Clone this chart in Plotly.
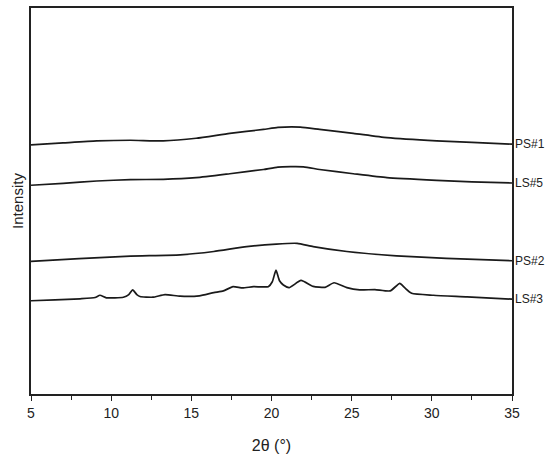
import plotly.graph_objects as go

# 2-theta positions (deg) and intensity readings (arbitrary units, offset curves)
ps1_x = [5.0, 7.0, 9.1, 11.2, 13.25, 15.3, 17.4, 19.5, 20.4, 21.8, 23.0, 25.1, 27.2, 30.3, 32.5, 35.0]
ps1_y = [253, 255, 257, 257.7, 257, 259.7, 264.7, 268.7, 270.7, 271, 268.7, 264.7, 260.3, 257, 255.5, 253.7]

ls5_x = [5.0, 7.0, 9.1, 11.2, 13.25, 15.3, 17.4, 19.5, 20.4, 22.0, 23.0, 25.1, 27.2, 30.3, 32.5, 35.0]
ls5_y = [212, 214, 216.3, 217.7, 218, 219.7, 223.7, 228, 230.5, 230.7, 228, 223.7, 219.7, 217, 215.5, 214.3]

ps2_x = [5.0, 8.0, 11.2, 14.3, 16.4, 18.45, 20.3, 21.6, 22.6, 24.7, 27.8, 30.9, 35.0]
ps2_y = [134.7, 137.5, 140, 141.3, 144.7, 149.7, 152.3, 153, 149.7, 144.7, 140.3, 137.7, 135.3]

ls3_x = [5.0, 6.5, 8.06, 9.0, 9.3, 9.7, 10.76, 11.1, 11.34, 11.6, 11.8, 12.6, 13.36, 14.3,
         15.5, 16.4, 17.0, 17.6, 18.2, 18.87, 19.8, 20.05, 20.28, 20.5, 20.74, 21.1, 21.84,
         22.6, 23.34, 23.9, 24.7, 25.5, 26.45, 27.4, 28.0, 28.3, 28.74, 30.1, 32.2, 35.0]
ls3_y = [94.7, 95.5, 96.7, 98, 100.3, 97.7, 98.3, 101, 105.7, 101, 99, 98.3, 101, 99.3,
         99.7, 103, 104.7, 109, 107.7, 109, 109, 114, 125.7, 115, 110.7, 108, 115.3,
         109.3, 108.3, 113, 108, 105.7, 106, 104.7, 112.3, 108, 102.3, 100.3, 98.7, 96.3]

series = [("PS#1", ps1_x, ps1_y), ("LS#5", ls5_x, ls5_y),
          ("PS#2", ps2_x, ps2_y), ("LS#3", ls3_x, ls3_y)]

fig = go.Figure()
for name, xs, ys in series:
    fig.add_trace(go.Scatter(x=xs, y=ys, mode='lines', name=name,
                             line=dict(color='#1a1a1a', width=1.7,
                                       shape='spline', smoothing=0.5)))
    # label just outside the right frame, level with the curve's end
    fig.add_annotation(x=1, xref='paper', xanchor='left', xshift=1,
                       y=ys[-1], yref='y', text=name, showarrow=False,
                       font=dict(size=12, color='#222'))

fig.update_layout(
    width=550, height=458,
    paper_bgcolor='white', plot_bgcolor='white',
    showlegend=False,
    font=dict(family='Liberation Sans, Arial, sans-serif', color='#222'),
    margin=dict(l=31, r=38, t=6, b=60),
    xaxis=dict(range=[5, 35], tickvals=[5, 10, 15, 20, 25, 30, 35],
               ticks='outside', ticklen=5, tickwidth=1.3, tickcolor='#222',
               minor=dict(tickvals=[7.5, 12.5, 17.5, 22.5, 27.5, 32.5],
                          ticks='outside', ticklen=4, tickcolor='#222'),
               showline=True, linecolor='#222', linewidth=1.5, mirror=True,
               showgrid=False, zeroline=False, tickfont=dict(size=14),
               title=dict(text='2θ (°)', font=dict(size=16), standoff=20)),
    yaxis=dict(range=[0, 392], showticklabels=False, ticks='',
               showline=True, linecolor='#222', linewidth=1.5, mirror=True,
               showgrid=False, zeroline=False,
               title=dict(text='Intensity', font=dict(size=15), standoff=2)),
)

fig.write_html("out.html", config={'displayModeBar': False},
               post_script="document.body.style.margin='0';")
